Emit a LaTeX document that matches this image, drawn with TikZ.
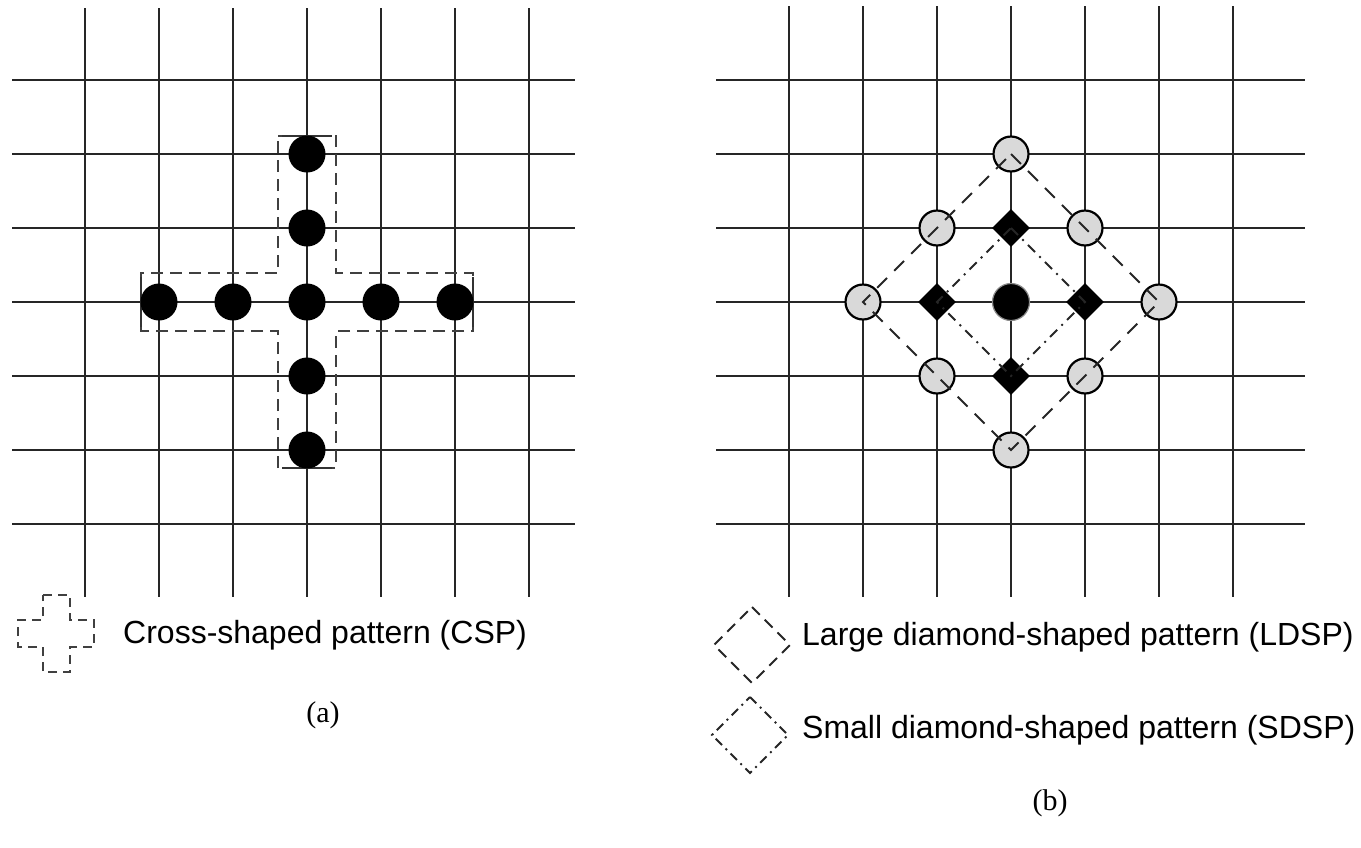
\documentclass[tikz,border=0pt]{standalone}
\usepackage{fontspec}
\setmainfont{Liberation Serif}
\setsansfont{Liberation Sans}
\usetikzlibrary{shapes.geometric}
\begin{document}
\begin{tikzpicture}[x=1pt,y=-1pt,
  gridline/.style={line width=1.8pt, black!85},
  bigdot/.style={circle, fill=black, minimum size=37pt, inner sep=0pt},
  graydot/.style={circle, draw=black, line width=2.2pt, fill=black!15, minimum size=35pt, inner sep=0pt},
  blackdiam/.style={diamond, fill=black, minimum width=38pt, minimum height=38pt, inner sep=0pt},
  csp/.style={dash pattern=on 12pt off 7pt, line width=1.7pt, black!75},
  cspcap/.style={line width=1.7pt, black!80},
  ldsp/.style={dash pattern=on 14pt off 10pt, line width=1.8pt, black!85},
  sdsp/.style={dash pattern=on 10pt off 6pt on 2pt off 6pt, line width=1.8pt, black!85},
  legend/.style={anchor=west, font=\sffamily\fontsize{32}{38}\selectfont, inner sep=0pt},
  caption/.style={font=\fontsize{30}{36}\selectfont, inner sep=0pt}]
\useasboundingbox (0,0) rectangle (1361,847);

% ---------- (a) search grid ----------
\foreach \x in {85,159,...,529} \draw[gridline] (\x,8) -- (\x,597);
\foreach \y in {80,154,...,524} \draw[gridline] (12,\y) -- (575,\y);

% cross-shaped outline
\draw[csp] (278,136) -- (336,136) -- (336,273) -- (473,273) -- (473,331)
  -- (336,331) -- (336,468) -- (278,468) -- (278,331) -- (141,331)
  -- (141,273) -- (278,273) -- cycle;
\draw[cspcap] (282,136) -- (332,136);
\draw[cspcap] (282,468) -- (332,468);
\draw[cspcap] (141,277) -- (141,327);
\draw[cspcap] (473,277) -- (473,327);

% CSP search points
\node[bigdot] (ac)  at (307,302) {};
\node[bigdot] (an1) at (307,228) {};
\node[bigdot] (an2) at (307,154) {};
\node[bigdot] (as1) at (307,376) {};
\node[bigdot] (as2) at (307,450) {};
\node[bigdot] (aw1) at (233,302) {};
\node[bigdot] (aw2) at (159,302) {};
\node[bigdot] (ae1) at (381,302) {};
\node[bigdot] (ae2) at (455,302) {};

% legend (a)
\draw[csp, dash pattern=on 9pt off 6pt] (43,595) -- (70,595) -- (70,620) -- (94,620) -- (94,647)
  -- (70,647) -- (70,672) -- (43,672) -- (43,647) -- (18,647)
  -- (18,620) -- (43,620) -- cycle;
\node[legend] (tcsp) at (123,635) {Cross-shaped pattern (CSP)};
\node[caption] (capa) at (323,715) {(a)};

% ---------- (b) search grid ----------
\foreach \x in {789,863,...,1233} \draw[gridline] (\x,6) -- (\x,597);
\foreach \y in {80,154,...,524} \draw[gridline] (716,\y) -- (1305,\y);

% LDSP search points
\node[graydot] (bt)  at (1011,154) {};
\node[graydot] (br)  at (1159,302) {};
\node[graydot] (bb)  at (1011,450) {};
\node[graydot] (bl)  at (863,302) {};
\node[graydot] (btl) at (937,228) {};
\node[graydot] (btr) at (1085,228) {};
\node[graydot] (bbl) at (937,376) {};
\node[graydot] (bbr) at (1085,376) {};

% SDSP search points
\node[blackdiam] (st) at (1011,228) {};
\node[blackdiam] (sr) at (1085,302) {};
\node[blackdiam] (sb) at (1011,376) {};
\node[blackdiam] (sl) at (937,302) {};
\node[circle, fill=black, draw=black!45, line width=1.2pt, minimum size=37pt, inner sep=0pt] (sc) at (1011,302) {};

% pattern outlines
\draw[ldsp] (bt.center) -- (br.center) -- (bb.center) -- (bl.center) -- cycle;
\draw[sdsp] (st.center) -- (sr.center) -- (sb.center) -- (sl.center) -- cycle;

% legend (b)
\draw[ldsp, dash pattern=on 11pt off 7pt] (752,607) -- (790,645) -- (752,683) -- (714,645) -- cycle;
\draw[sdsp, dash pattern=on 9pt off 5pt on 2pt off 5pt] (750,697) -- (788,735) -- (750,773) -- (712,735) -- cycle;
\node[legend] (tldsp) at (802,637) {Large diamond-shaped pattern (LDSP)};
\node[legend] (tsdsp) at (802,730) {Small diamond-shaped pattern (SDSP)};
\node[caption] (capb) at (1050,803) {(b)};
\end{tikzpicture}
\end{document}
